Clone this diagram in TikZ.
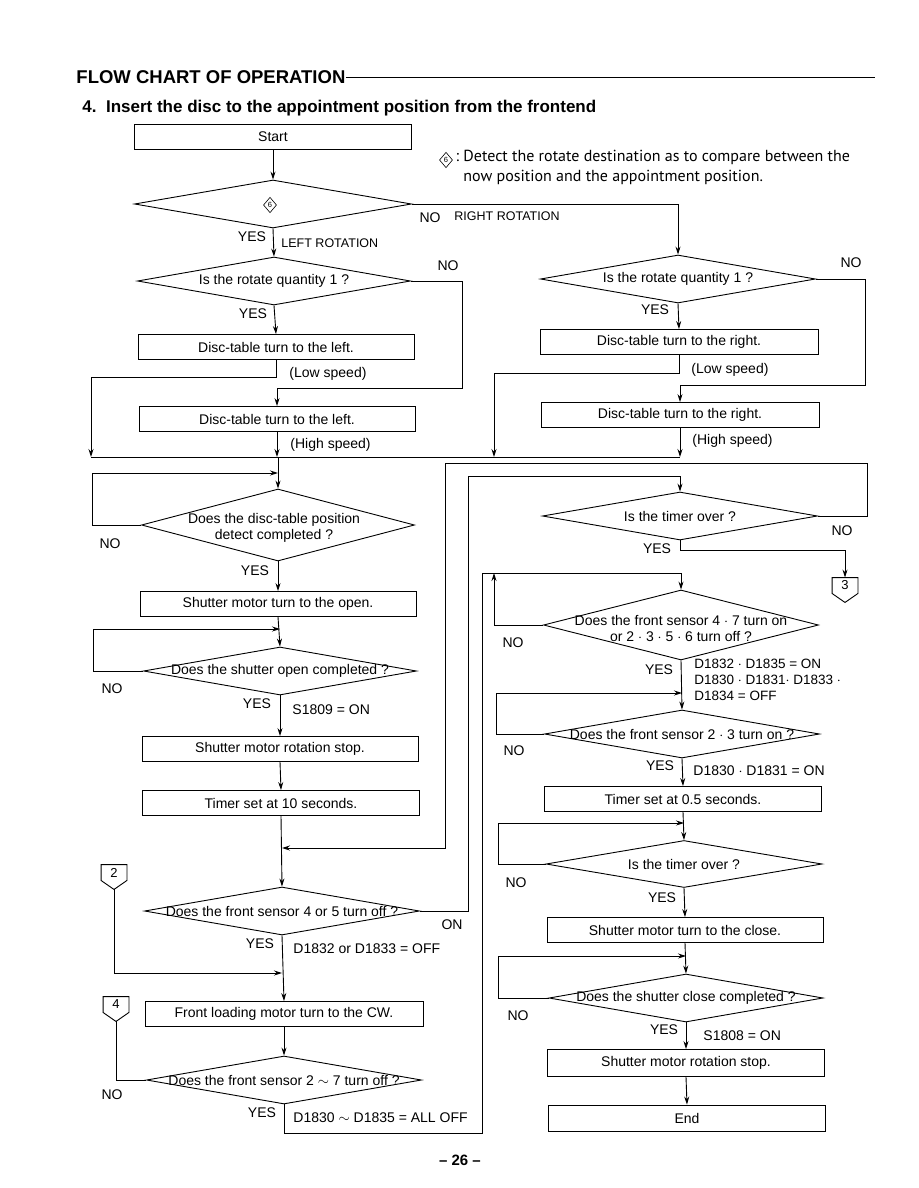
\documentclass[tikz,border=0pt]{standalone}
\usepackage{fontspec}
\setmainfont{Liberation Sans}
\newfontfamily\notefont{PT Sans}
\usetikzlibrary{shapes.geometric, arrows.meta, positioning}
\newcommand{\fsbox}{\fontsize{14}{16}\selectfont}
\newcommand{\fssmall}{\fontsize{12.5}{14}\selectfont}
\tikzset{
  % step box
  proc/.style={draw, rectangle, minimum width=276, minimum height=25,
    inner sep=0pt, font=\fsbox},
  % decision (text put on top separately)
  dec/.style={draw, diamond, inner sep=0pt, minimum height=48},
  dtext/.style={font=\fsbox, align=center, inner sep=0pt},
  % off-page connector (upper part, the point is drawn by \offpage)
  conn/.style={rectangle, minimum width=25, minimum height=15, inner sep=0pt,
    font=\fontsize{13}{13}\selectfont},
  % small marks
  sym/.style={draw, diamond, aspect=0.85, inner sep=1.2pt, line width=0.6pt,
    font=\fontsize{7.5}{7.5}\selectfont},
  % labels
  lbl/.style={font=\fsbox, inner sep=0pt},
  smalllbl/.style={font=\fssmall, inner sep=0pt},
  arr/.style={-{Stealth[length=8pt, width=5pt]}},
}
% off-page connector: name, position, text
\newcommand{\offpage}[3]{%
  \node[conn] (#1) at (#2) {#3};
  \coordinate (#1-tip) at ([yshift=-9pt]#1.south);
  \draw (#1.north west) -- (#1.north east) -- (#1.south east) -- (#1-tip)
    -- (#1.south west) -- cycle;}
\begin{document}
\begin{tikzpicture}[x=1pt, y=-1pt, line width=0.9pt]
  \useasboundingbox (0,0) rectangle (918,1188);
  % headings
  \node[anchor=west, inner sep=0pt, font=\fontsize{18.5}{20}\selectfont\bfseries] (title) at (76,77) {FLOW CHART OF OPERATION};
  \coordinate (tl) at (875,75);
  \draw[line width=0.7pt] (title.east) -- (title.east -| tl);
  \node[anchor=west, inner sep=0pt, font=\fontsize{17}{19}\selectfont\bfseries] (sub) at (82,108) {4.\ \ Insert the disc to the appointment position from the frontend};
  \node[sym] (n6) at (446,160) {6};
  \node[anchor=north west, align=left, inner sep=0pt, font=\notefont\fontsize{16}{20}\selectfont] (note) at (463,150) {\llap{:\ }Detect the rotate destination as to compare between the\\now position and the appointment position.};

  % left column
  \node[proc, minimum width=277] (start) at (273,137) {Start};
  \node[dec, minimum width=277] (d6) at (273,204) {};
  \node[sym] (d6t) at (270,205) {6};
  \node[dec, minimum width=273] (lq) at (274,281) {};
  \node[dtext] (lqt) at (lq) {Is the rotate quantity 1 ?};
  \node[proc] (lb1) at (276,347) {Disc-table turn to the left.};
  \node[proc] (lb2) at (277,419) {Disc-table turn to the left.};
  \node[dec, minimum width=273, minimum height=72] (dpos) at (278,525) {};
  \node[dtext] (dpost) at (274,528) {Does the disc-table position\\detect completed ?};
  \node[proc] (sopen) at (278,604) {Shutter motor turn to the open.};
  \node[dec, minimum width=273] (dso) at (280,671) {};
  \node[dtext] (dsot) at (dso) {Does the shutter open completed ?};
  \node[proc] (sstop) at (280,749) {Shutter motor rotation stop.};
  \node[proc, minimum width=277] (t10) at (281,803) {Timer set at 10 seconds.};
  \node[dec, minimum width=275] (d45) at (282,911) {};
  \node[dtext] (d45t) at (d45) {Does the front sensor 4 or 5 turn off ?};
  \node[proc, minimum width=278] (cw) at (284,1014) {Front loading motor turn to the CW.};
  \node[dec, minimum width=275] (d27) at (284,1080) {};
  \node[dtext] (d27t) at (d27) {Does the front sensor 2 $\sim$ 7 turn off ?};
  \offpage{c2}{114,872.5}{2}
  \offpage{c4}{116,1004.5}{4}

  % right column
  \node[dec, minimum width=275] (rq) at (678,279) {};
  \node[dtext] (rqt) at (rq) {Is the rotate quantity 1 ?};
  \node[proc, minimum width=278] (rb1) at (679,342) {Disc-table turn to the right.};
  \node[proc, minimum width=278] (rb2) at (680,415) {Disc-table turn to the right.};
  \node[dec, minimum width=275] (to1) at (680,516) {};
  \node[dtext] (to1t) at (to1) {Is the timer over ?};
  \offpage{c3}{845,585.5}{3}
  \node[dec, minimum width=275, minimum height=70] (d47) at (681,625) {};
  \node[dtext] (d47t) at (681,628) {Does the front sensor 4 $\cdot$ 7 turn on\\or 2 $\cdot$ 3 $\cdot$ 5 $\cdot$ 6 turn off ?};
  \node[dec, minimum width=275] (d23) at (682,734) {};
  \node[dtext] (d23t) at (d23) {Does the front sensor 2 $\cdot$ 3 turn on ?};
  \node[proc, minimum width=277] (t05) at (683,799) {Timer set at 0.5 seconds.};
  \node[dec, minimum width=276, minimum height=47] (to2) at (684,864) {};
  \node[dtext] (to2t) at (to2) {Is the timer over ?};
  \node[proc] (sclose) at (685,930) {Shutter motor turn to the close.};
  \node[dec, minimum width=274] (dsc) at (686,998) {};
  \node[dtext] (dsct) at (dsc) {Does the shutter close completed ?};
  \node[proc, minimum width=277, minimum height=27] (sstop2) at (686,1063) {Shutter motor rotation stop.};
  \node[proc, minimum width=277, minimum height=26] (endb) at (687,1118) {End};

  % helper points
  \coordinate (bus) at (91,457);
  \coordinate (busr) at (680,457);
  \coordinate (lqo) at (462,388);
  \coordinate (rqo) at (865,385);
  \coordinate (lb1o) at (91,377);
  \coordinate (rb1o) at (494,373);
  \coordinate (lp1) at (92,473);
  \coordinate (lp2) at (93,629);
  \coordinate (tlo) at (867,463);
  \coordinate (tli) at (445,848);
  \coordinate (onr) at (468,476);
  \coordinate (c2o) at (115,973);
  \coordinate (offb) at (482,1133);
  \coordinate (offt) at (482,573);
  \coordinate (t3) at (845,550);
  \coordinate (rp1) at (494,573);
  \coordinate (rp2) at (496,693);
  \coordinate (rp3) at (498,823);
  \coordinate (rp4) at (498,956);

  % connectors, top part
  \draw[arr] (start) -- (d6);
  \draw[arr] (d6.east) -- (d6.east -| rq.north) -- (rq.north);
  \draw[arr] (d6.south) -- (lq.north);
  \draw[arr] (lq.south) -- (lb1.north);
  \draw[arr] (lq.east) -- (lq.east -| lqo) -- (lqo) -- (lqo -| lb2.north) -- (lb2.north);
  \draw[arr] (lb1.south) -- (lb1.south |- lb1o) -- (lb1o) -- (bus);
  \draw[arr] (lb2.south) -- (lb2.south |- bus);
  \draw[arr] (rq.south) -- (rb1.north);
  \draw[arr] (rq.east) -- (rq.east -| rqo) -- (rqo) -- (rqo -| rb2.north) -- (rb2.north);
  \draw[arr] (rb1.south) -- (rb1.south |- rb1o) -- (rb1o) -- (rb1o |- bus);
  \draw[arr] (rb2.south) -- (busr);
  \draw (bus) -- (busr);
  \draw[arr] (bus -| dpos.north) -- (dpos.north);

  % left loops
  \draw[arr] (dpos.west) -- (dpos.west -| lp1) -- (lp1) -- (lp1 -| dpos.north);
  \draw[arr] (dpos.south) -- (sopen.north);
  \draw[arr] (sopen.south) -- (dso.north);
  \draw[arr] (dso.west) -- (dso.west -| lp2) -- (lp2) -- (lp2 -| dso.north);
  \draw[arr] (dso.south) -- (sstop.north);
  \draw[arr] (sstop.south) -- (t10.north);
  \draw[arr] (t10.south) -- (d45.north);
  \draw[arr] (to1.east) -- (to1.east -| tlo) -- (tlo) -- (tlo -| tli) -- (tli) -- (tli -| d45.north);
  \draw[arr] (d45.east) -- (d45.east -| onr) -- (onr) -- (onr -| to1.north) -- (to1.north);
  \draw[arr] (d45.south) -- (cw.north);
  \draw[arr] (c2-tip) -- (c2-tip |- c2o) -- (c2o -| d45.south);
  \draw[arr] (cw.south) -- (d27.north);
  \draw (d27.west) -- (d27.west -| c4-tip) -- (c4-tip);
  \draw[arr] (d27.south) -- (d27.south |- offb) -- (offb) -- (offt) -- (offt -| d47.north) -- (d47.north);

  % right loops
  \draw[arr] (to1.south) -- (to1.south |- t3) -- (t3) -- (c3.north);
  \draw[arr] (d47.west) -- (d47.west -| rp1) -- (rp1);
  \draw[arr] (d47.south) -- (d23.north);
  \draw[arr] (d23.west) -- (d23.west -| rp2) -- (rp2) -- (rp2 -| d23.north);
  \draw[arr] (d23.south) -- (t05.north);
  \draw[arr] (t05.south) -- (to2.north);
  \draw[arr] (to2.west) -- (to2.west -| rp3) -- (rp3) -- (rp3 -| to2.north);
  \draw[arr] (to2.south) -- (sclose.north);
  \draw[arr] (sclose.south) -- (dsc.north);
  \draw[arr] (dsc.west) -- (dsc.west -| rp4) -- (rp4) -- (rp4 -| dsc.north);
  \draw[arr] (dsc.south) -- (sstop2.north);
  \draw[arr] (sstop2.south) -- (endb.north);

  % branch labels
  \node[lbl] (no1) at (430,218) {NO};
  \node[smalllbl] (rr) at (507,216) {RIGHT ROTATION};
  \node[lbl] (yes1) at (252,237) {YES};
  \node[smalllbl, anchor=west] (lr) at (281,243) {LEFT ROTATION};
  \node[lbl] (no2) at (448,266) {NO};
  \node[lbl] (yes2) at (253,314) {YES};
  \node[lbl, anchor=west] (ls1) at (289,374) {(Low speed)};
  \node[lbl, anchor=west] (hs1) at (290,445) {(High speed)};
  \node[lbl] (no3) at (851,263) {NO};
  \node[lbl] (yes3) at (655,310) {YES};
  \node[lbl, anchor=west] (ls2) at (691,370) {(Low speed)};
  \node[lbl, anchor=west] (hs2) at (692,441) {(High speed)};
  \node[lbl] (no4) at (110,544) {NO};
  \node[lbl] (yes4) at (255,571) {YES};
  \node[lbl] (no5) at (112,689) {NO};
  \node[lbl] (yes5) at (257,704) {YES};
  \node[lbl, anchor=west] (s1809) at (292,710) {S1809 = ON};
  \node[lbl] (on1) at (452,925) {ON};
  \node[lbl] (yes6) at (260,944) {YES};
  \node[lbl, anchor=west] (d3233) at (293,949) {D1832 or D1833 = OFF};
  \node[lbl] (no6) at (112,1095) {NO};
  \node[lbl] (yes7) at (262,1113) {YES};
  \node[lbl, anchor=west] (alloff) at (293,1118) {D1830 $\sim$ D1835 = ALL OFF};
  \node[lbl] (no7) at (842,531) {NO};
  \node[lbl] (yes8) at (657,549) {YES};
  \node[lbl] (no8) at (513,643) {NO};
  \node[lbl] (yes9) at (659,670) {YES};
  \node[lbl, anchor=north west, align=left, font=\fontsize{13.5}{16}\selectfont] (dblock) at (694,659) {D1832 $\cdot$ D1835 = ON\\D1830 $\cdot$ D1831$\cdot$ D1833 $\cdot$\\D1834 = OFF};
  \node[lbl] (no9) at (514,751) {NO};
  \node[lbl] (yes10) at (660,766) {YES};
  \node[lbl, anchor=west] (d3031) at (693,771) {D1830 $\cdot$ D1831 = ON};
  \node[lbl] (no10) at (516,883) {NO};
  \node[lbl] (yes11) at (662,898) {YES};
  \node[lbl] (no11) at (518,1016) {NO};
  \node[lbl] (yes12) at (664,1030) {YES};
  \node[lbl, anchor=west] (s1808) at (703,1036) {S1808 = ON};
  \node[inner sep=0pt, font=\fontsize{15}{18}\selectfont\bfseries] (page) at (460,1160) {-- 26 --};
\end{tikzpicture}
\end{document}
